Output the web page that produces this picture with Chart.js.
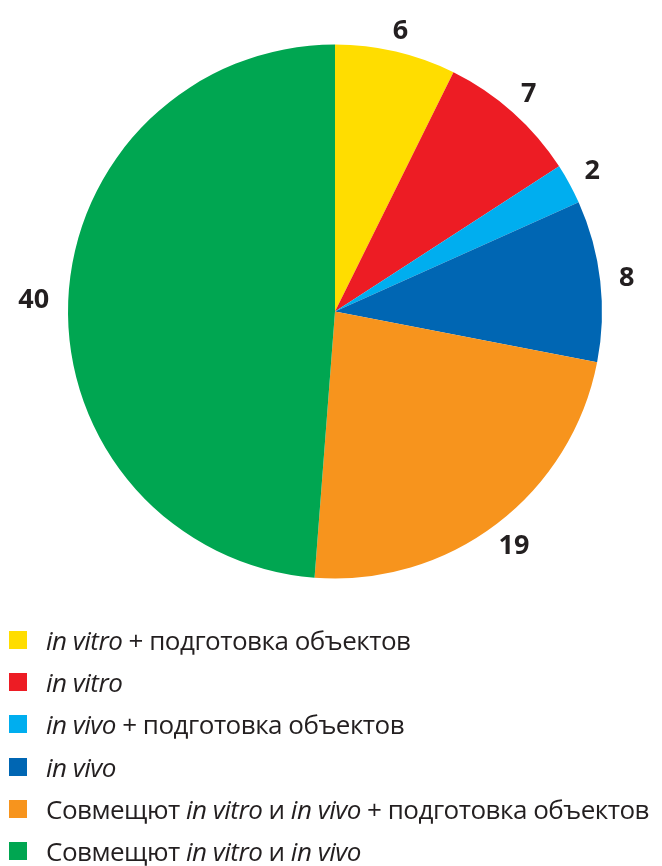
<!DOCTYPE html>
<html>
<head>
<meta charset="utf-8">
<script src="https://cdn.jsdelivr.net/npm/chart.js@4"></script>
<style>
  html, body { margin: 0; padding: 0; background: #fff; }
  #wrap { position: relative; width: 662px; height: 866px; }
  #chartBox { position: absolute; left: 0; top: 0; width: 662px; height: 622px; }
  #legend { position: absolute; left: 9px; top: 619px; font-family: "Open Sans", sans-serif; font-size: 26px; color: #231f20; }
  #legend .row { height: 42.2px; display: flex; align-items: center; white-space: nowrap; letter-spacing: -0.5px; }
  #legend .sw { width: 18px; height: 18px; margin-right: 19px; flex: none; }
  #legend i { font-style: italic; }
</style>
</head>
<body>
<div id="wrap">
  <div id="chartBox"><canvas id="pieChart"></canvas></div>
  <div id="legend"></div>
</div>
<script>
// slice values and legend labels, clockwise from the top
const categorias = [
    '<i>in vitro</i> + подготовка объектов',
    '<i>in vitro</i>',
    '<i>in vivo</i> + подготовка объектов',
    '<i>in vivo</i>',
    'Совмещют <i>in vitro</i> и <i>in vivo</i> + подготовка объектов',
    'Совмещют <i>in vitro</i> и <i>in vivo</i>'
];
const valores = [6, 7, 2, 8, 19, 40];
const colores = ['#ffdd00', '#ed1c24', '#00aeef', '#0066b3', '#f7941d', '#00a651'];

window.addEventListener('DOMContentLoaded', event => {
    buildLegend();
    addChart();
});

function buildLegend(){
    const legend = document.getElementById('legend');
    categorias.forEach(function (cat, i) {
        const row = document.createElement('div');
        row.className = 'row';
        row.innerHTML = '<span class="sw" style="background:' + colores[i] + '"></span><span>' + cat + '</span>';
        legend.appendChild(row);
    });
}

// numbers outside each slice, along the middle angle
const valueLabels = {
    id: 'valueLabels',
    afterDatasetsDraw(chart) {
        const ctx = chart.ctx;
        const meta = chart.getDatasetMeta(0);
        ctx.save();
        ctx.font = 'bold 27px "Open Sans", sans-serif';
        ctx.fillStyle = '#231f20';
        ctx.textAlign = 'center';
        ctx.textBaseline = 'middle';
        meta.data.forEach(function (arc, i) {
            const mid = (arc.startAngle + arc.endAngle) / 2;
            const text = String(valores[i]);
            const half = ctx.measureText(text).width / 2;
            const dist = arc.outerRadius + 19 + half * Math.abs(Math.cos(mid));
            ctx.fillText(text, arc.x + Math.cos(mid) * dist, arc.y + Math.sin(mid) * dist);
        });
        ctx.restore();
    }
};

function addChart(){
    const ctx = document.getElementById('pieChart');
    new Chart(ctx, {
        type: 'pie',
        data: {
            labels: categorias,
            datasets: [{
                data: valores,
                backgroundColor: colores,
                borderWidth: 0
            }]
        },
        options: {
            responsive: true,
            maintainAspectRatio: false,
            animation: false,
            layout: { padding: { top: 44, bottom: 43, left: 68, right: 60 } },
            plugins: {
                legend: { display: false },
                tooltip: { enabled: false }
            }
        },
        plugins: [valueLabels]
    });
}
</script>
</body>
</html>
